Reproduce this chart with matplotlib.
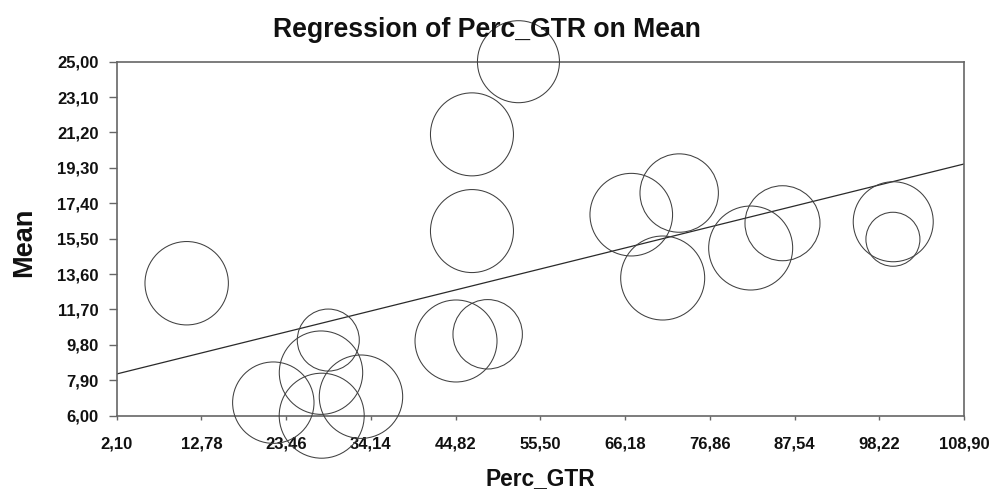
import matplotlib
matplotlib.use("Agg")
import matplotlib.pyplot as plt
import numpy as np

plt.rcParams['font.family'] = ['Liberation Sans', 'DejaVu Sans']

# Data
perc_gtr = [52.74, 46.88, 46.88, 10.92, 28.77, 27.85, 21.84, 27.94, 32.89,
            44.87, 48.86, 66.96, 73.00, 70.92, 82.01, 86.02, 99.98, 99.94]
mean_val = [25.00, 21.10, 15.91, 13.11, 10.06, 8.31, 6.70, 6.00, 7.02,
            10.01, 10.37, 16.79, 17.95, 13.39, 15.00, 16.33, 16.41, 15.47]
bubble_size = [41.0, 41.5, 41.5, 41.7, 31.0, 41.7, 40.7, 42.5, 41.7,
               41.0, 34.7, 41.3, 39.2, 42.0, 42.0, 37.5, 40.0, 27.0]

reg_x = [2.10, 108.90]
reg_y = [8.24, 19.51]

x_ticks = [2.10, 12.78, 23.46, 34.14, 44.82, 55.50, 66.18, 76.86, 87.54, 98.22, 108.90]
y_ticks = [6.00, 7.90, 9.80, 11.70, 13.60, 15.50, 17.40, 19.30, 21.20, 23.10, 25.00]
x_tick_labels = ["2,10", "12,78", "23,46", "34,14", "44,82", "55,50",
                 "66,18", "76,86", "87,54", "98,22", "108,90"]
y_tick_labels = ["6,00", "7,90", "9,80", "11,70", "13,60", "15,50",
                 "17,40", "19,30", "21,20", "23,10", "25,00"]

W, H, DPI = 993, 490, 100
fig = plt.figure(figsize=(W / DPI, H / DPI), dpi=DPI)
ax = fig.add_axes([116.7 / W, 1 - 415.7 / H, (964 - 116.7) / W, (415.7 - 61.7) / H])

# bubble radius in pixels -> marker area in points^2
px_to_pt = 72.0 / DPI
sizes = [(2 * r * px_to_pt) ** 2 for r in bubble_size]
ax.scatter(perc_gtr, mean_val, s=sizes, facecolors='none', edgecolors='#404040',
           linewidths=0.75, clip_on=False, zorder=3)

ax.plot(reg_x, reg_y, color='#2a2a2a', linewidth=0.9, zorder=2)

ax.set_xlim(x_ticks[0], x_ticks[-1])
ax.set_ylim(y_ticks[0], y_ticks[-1])
ax.set_xticks(x_ticks)
ax.set_xticklabels(x_tick_labels)
ax.set_yticks(y_ticks)
ax.set_yticklabels(y_tick_labels)

for s in ax.spines.values():
    s.set_color('#666666')
    s.set_linewidth(1.2)

ax.tick_params(axis='x', direction='out', length=3, width=1.0, color='#666666',
               pad=12, labelsize=12)
ax.tick_params(axis='y', direction='out', length=6, width=1.0, color='#666666',
               pad=7, labelsize=12)
for lbl in ax.get_xticklabels() + ax.get_yticklabels():
    lbl.set_fontweight('bold')
    lbl.set_color('#111111')

fig.text(487 / W, 1 - 30 / H, "Regression of Perc_GTR on Mean", ha='center', va='center',
         fontsize=19.2, fontweight='bold', color='#111111')
fig.text(540.5 / W, 1 - 479 / H, "Perc_GTR", ha='center', va='center',
         fontsize=16.4, fontweight='bold', color='#111111')
fig.text(24 / W, 1 - 242.5 / H, "Mean", ha='center', va='center', rotation=90,
         fontsize=19.5, fontweight='bold', color='#111111')

fig.savefig("out.png", dpi=DPI, facecolor='white')
